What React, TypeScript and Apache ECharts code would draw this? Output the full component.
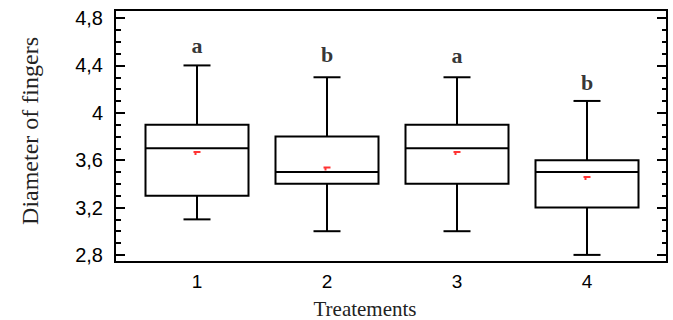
import React, { useEffect, useRef } from "react";
import * as echarts from "echarts";

const categories = ["1", "2", "3", "4"];
const minValues = [3.1, 3.0, 3.0, 2.8];
const q1Values = [3.3, 3.4, 3.4, 3.2];
const medianValues = [3.7, 3.5, 3.7, 3.5];
const q3Values = [3.9, 3.8, 3.9, 3.6];
const maxValues = [4.4, 4.3, 4.3, 4.1];
const meanValues = [3.66, 3.53, 3.66, 3.45];
const groupLetters = ["a", "b", "a", "b"];
const letterY = [4.57, 4.49, 4.485, 4.26];
const yMajorTicks = [2.8, 3.2, 3.6, 4.0, 4.4, 4.8];
const yMinorTicks = [2.9, 3.0, 3.1, 3.3, 3.4, 3.5, 3.7, 3.8, 3.9, 4.1, 4.2, 4.3, 4.5, 4.6, 4.7];
const Y_MIN = 2.74;
const Y_MAX = 4.868;

export default function App() {
  const ref = useRef<HTMLDivElement>(null);
  useEffect(() => {
    if (!ref.current) return;
    const chart = echarts.init(ref.current, null, { renderer: "svg" });
    const boxData = categories.map((_, i) => [i, minValues[i], q1Values[i], medianValues[i], q3Values[i], maxValues[i]]);
    const yBase = (extra: any) => ({
      type: "value",
      gridIndex: 0,
      min: Y_MIN,
      max: Y_MAX,
      splitLine: { show: false },
      axisLine: { show: true, lineStyle: { color: "#000", width: 2 } },
      ...extra,
    });
    const tickStyle = { color: "#000", width: 2 };
    chart.setOption({
      animation: false,
      grid: [
        { left: 115, right: 6, top: 10, bottom: 58, show: true, borderColor: "#000", borderWidth: 2 },
        { left: 132, right: 21, top: 10, bottom: 58 },
      ],
      xAxis: [
        { type: "value", gridIndex: 0, show: false, min: 0, max: 1 },
        {
          type: "category",
          gridIndex: 1,
          data: categories,
          axisLine: { show: false },
          axisTick: { show: false },
          axisLabel: { color: "#000", fontSize: 19, fontFamily: "Liberation Sans", margin: 10 },
        },
      ],
      yAxis: [
        yBase({
          position: "left",
          axisTick: { inside: true, length: 10, lineStyle: tickStyle, customValues: yMajorTicks },
          axisLabel: {
            customValues: yMajorTicks,
            color: "#000",
            fontSize: 20,
            fontFamily: "Liberation Sans",
            margin: 12,
            formatter: (v: number) => String(Math.round(v * 10) / 10).replace(".", ","),
          },
        }),
        yBase({
          position: "left",
          axisTick: { inside: true, length: 6, lineStyle: tickStyle, customValues: yMinorTicks },
          axisLabel: { show: false },
        }),
        yBase({
          position: "right",
          axisTick: { inside: true, length: 10, lineStyle: tickStyle, customValues: yMajorTicks },
          axisLabel: { show: false },
        }),
        yBase({
          position: "right",
          axisTick: { inside: true, length: 5, lineStyle: tickStyle, customValues: yMinorTicks },
          axisLabel: { show: false },
        }),
        { type: "value", gridIndex: 1, min: Y_MIN, max: Y_MAX, show: false },
      ],
      series: [
        {
          type: "custom",
          xAxisIndex: 1,
          yAxisIndex: 4,
          data: boxData,
          renderItem: (params: any, api: any) => {
            const x = api.value(0);
            const pMin = api.coord([x, api.value(1)]);
            const pQ1 = api.coord([x, api.value(2)]);
            const pMed = api.coord([x, api.value(3)]);
            const pQ3 = api.coord([x, api.value(4)]);
            const pMax = api.coord([x, api.value(5)]);
            const cx = pMin[0];
            const bw = 103;
            const cap = 27;
            const ls = { stroke: "#000", lineWidth: 2, fill: null };
            return {
              type: "group",
              children: [
                { type: "line", shape: { x1: cx, y1: pMax[1], x2: cx, y2: pQ3[1] }, style: ls },
                { type: "line", shape: { x1: cx, y1: pQ1[1], x2: cx, y2: pMin[1] }, style: ls },
                { type: "line", shape: { x1: cx - cap / 2, y1: pMax[1], x2: cx + cap / 2, y2: pMax[1] }, style: ls },
                { type: "line", shape: { x1: cx - cap / 2, y1: pMin[1], x2: cx + cap / 2, y2: pMin[1] }, style: ls },
                {
                  type: "rect",
                  shape: { x: cx - bw / 2, y: pQ3[1], width: bw, height: pQ1[1] - pQ3[1] },
                  style: { stroke: "#000", lineWidth: 2, fill: "#fff" },
                },
                { type: "line", shape: { x1: cx - bw / 2, y1: pMed[1], x2: cx + bw / 2, y2: pMed[1] }, style: ls },
              ],
            };
          },
          z: 2,
        },
        {
          type: "scatter",
          xAxisIndex: 1,
          yAxisIndex: 4,
          data: meanValues.map((v, i) => [i, v]),
          symbol: "path://M0,0 H7 V2 H0 Z M1,0 H3 V4 H1 Z",
          symbolSize: [7, 4],
          itemStyle: { color: "#ff0000" },
          z: 5,
        },
        {
          type: "scatter",
          xAxisIndex: 1,
          yAxisIndex: 4,
          data: letterY.map((v, i) => [i, v]),
          symbolSize: 1,
          itemStyle: { color: "transparent" },
          label: {
            show: true,
            position: "inside",
            formatter: (p: any) => groupLetters[p.dataIndex],
            color: "#000",
            fontSize: 22,
            fontWeight: "bold",
            fontFamily: "Liberation Serif",
          },
          z: 5,
        },
      ],
      graphic: [
        {
          type: "text",
          x: 30,
          y: 131,
          rotation: Math.PI / 2,
          style: {
            text: "Diameter of fingers",
            fontSize: 24,
            fontFamily: "Liberation Serif",
            fill: "#222",
            align: "center",
            verticalAlign: "middle",
          },
        },
        {
          type: "text",
          x: 365,
          y: 309,
          style: {
            text: "Treatements",
            fontSize: 21,
            fontFamily: "Liberation Serif",
            fill: "#222",
            align: "center",
            verticalAlign: "middle",
          },
        },
      ],
    });
    return () => chart.dispose();
  }, []);
  return <div ref={ref} style={{ position: "absolute", left: 0, top: 0, width: 673, height: 320 }} />;
}
